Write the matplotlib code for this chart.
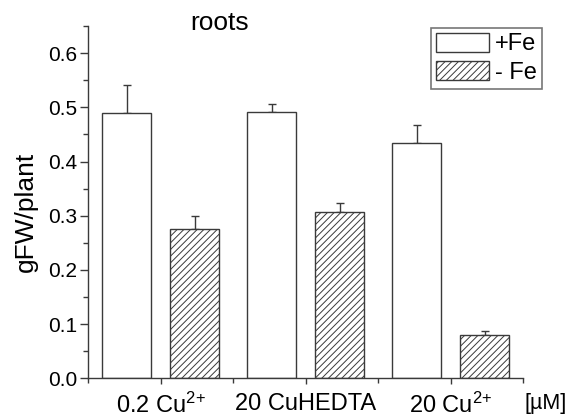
import matplotlib
matplotlib.use("Agg")
import matplotlib.pyplot as plt
import numpy as np
from matplotlib.ticker import MultipleLocator, FixedLocator

plt.rcParams['font.family'] = ['Liberation Sans', 'DejaVu Sans']
plt.rcParams['mathtext.fontset'] = 'custom'
plt.rcParams['mathtext.rm'] = 'Liberation Sans'
plt.rcParams['mathtext.it'] = 'Liberation Sans'
plt.rcParams['hatch.linewidth'] = 0.7

categories = ['0.2 Cu$^{2{+}}$', '20 CuHEDTA', '20 Cu$^{2{+}}$']
plus_fe = [0.489, 0.492, 0.435]
plus_fe_err = [0.053, 0.015, 0.032]
minus_fe = [0.275, 0.307, 0.080]
minus_fe_err = [0.024, 0.017, 0.008]

W, H = 576, 417
fig = plt.figure(figsize=(5.76, 4.17), dpi=100)
ax = fig.add_axes([88.3/W, 1 - 378.3/H, (523.3-88.3)/W, (378.3-26)/H])

edge = '#3a3a3a'
x = np.arange(1, 4)
w = 0.338
off = 0.234
ax.bar(x - off, plus_fe, w, color='white', edgecolor=edge, linewidth=1.0, label='+Fe', zorder=2)
ax.bar(x + off, minus_fe, w, color='white', edgecolor=edge, linewidth=1.0, hatch='/////', label='- Fe', zorder=2)
ax.errorbar(x - off, plus_fe, yerr=[np.zeros(3), plus_fe_err], fmt='none', ecolor=edge,
            elinewidth=1.0, capsize=2.6, capthick=1.0, zorder=1)
ax.errorbar(x + off, minus_fe, yerr=[np.zeros(3), minus_fe_err], fmt='none', ecolor=edge,
            elinewidth=1.0, capsize=2.6, capthick=1.0, zorder=1)

ax.set_xlim(0.5, 3.5)
ax.set_ylim(0, 0.65)
ax.set_xticks(x)
ax.set_xticklabels(categories, fontsize=17)
ax.xaxis.set_minor_locator(FixedLocator([0.5, 1.5, 2.5, 3.5]))
ax.yaxis.set_major_locator(MultipleLocator(0.1))
ax.yaxis.set_minor_locator(MultipleLocator(0.05))
ax.yaxis.set_major_formatter(plt.FuncFormatter(lambda v, p: f'{v:.1f}'))
ax.tick_params(axis='y', which='major', labelsize=15, length=5.5, width=1.0, color=edge, direction='out', pad=2.5)
ax.tick_params(axis='x', which='major', length=4.5, width=1.0, color=edge, direction='out', pad=6)
ax.tick_params(axis='both', which='minor', length=3.5, width=1.0, color=edge, direction='out')
for s in ['top', 'right']:
    ax.spines[s].set_visible(False)
for s in ['left', 'bottom']:
    ax.spines[s].set_linewidth(1.0)
    ax.spines[s].set_color(edge)

fig.text(26/W, 1 - 212/H, 'gFW/plant', rotation=90, ha='center', va='center', fontsize=19)
fig.text(220/W, 1 - 23/H, 'roots', ha='center', va='center', fontsize=19)
fig.text(546/W, 1 - 404/H, '[µM]', ha='center', va='center', fontsize=15.5)

leg = ax.legend(loc='upper right', bbox_to_anchor=(541.7/W, 1 - 28/H), bbox_transform=fig.transFigure,
                fontsize=17, frameon=True, fancybox=False, handlelength=2.25, handleheight=0.85,
                handletextpad=0.25, borderpad=0.2, labelspacing=0.25, borderaxespad=0)
leg.get_frame().set_edgecolor('#555555')
leg.get_frame().set_linewidth(1.2)
for p in leg.get_patches():
    p.set_edgecolor(edge)

fig.savefig('out.png', dpi=100)
